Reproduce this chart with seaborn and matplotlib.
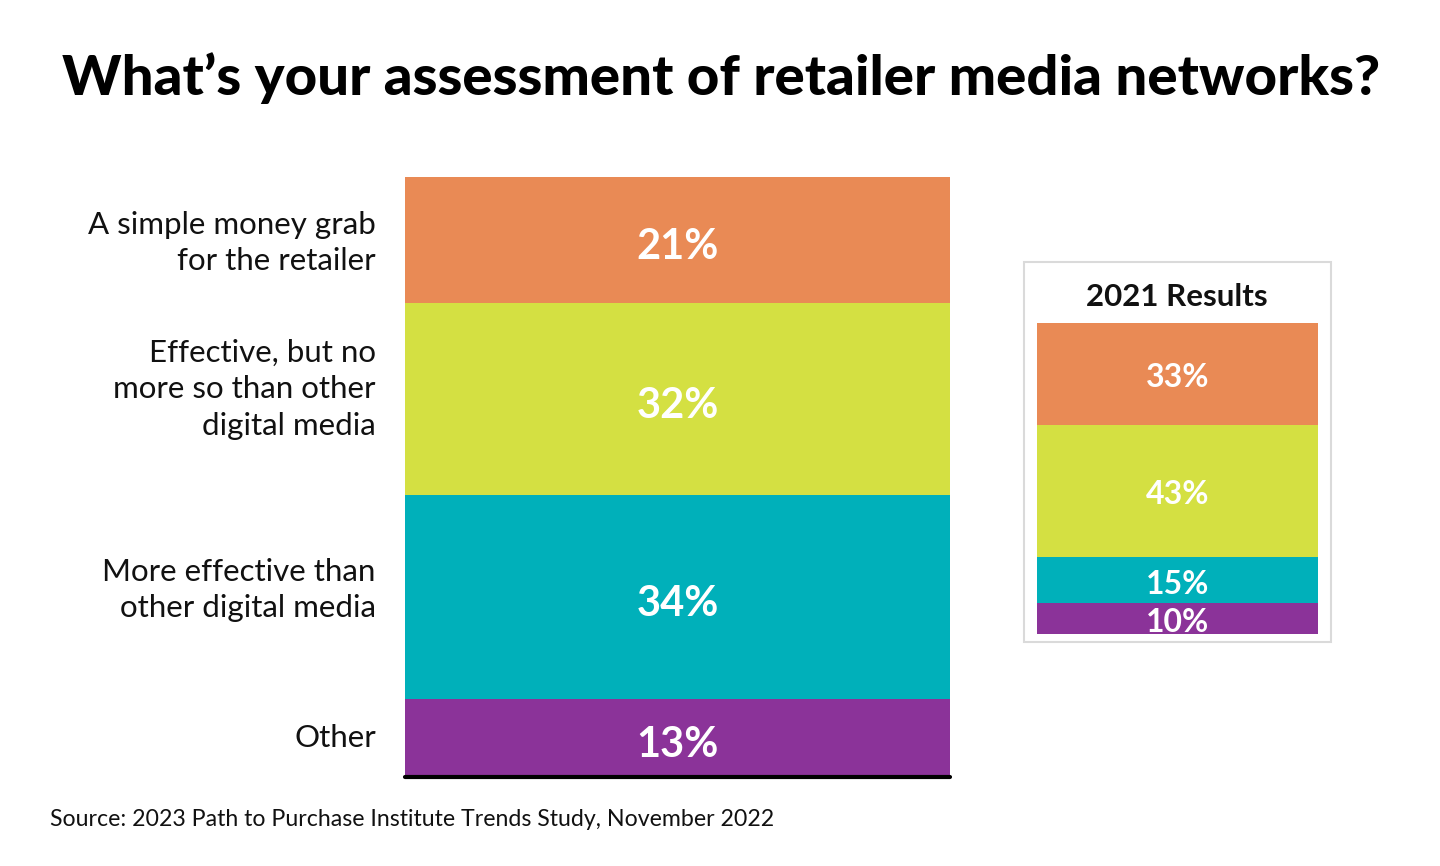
import numpy as np
import matplotlib
matplotlib.use("Agg")
import matplotlib.pyplot as plt
import seaborn as sns
from matplotlib.patches import Rectangle

# Data (top segment first)
categories = [
    "A simple money grab\nfor the retailer",
    "Effective, but no\nmore so than other\ndigital media",
    "More effective than\nother digital media",
    "Other",
]
values_2023 = [21, 32, 34, 13]
values_2021 = [33, 43, 15, 10]
colors = ["#E98A55", "#D4E042", "#00B0BA", "#8B3399"]

title = "What\u2019s your assessment of retailer media networks?"
legend_title = "2021 Results"
source = "Source: 2023 Path to Purchase Institute Trends Study, November 2022"

sns.set_theme(style="white")
plt.rcParams["font.family"] = ["Lato", "DejaVu Sans"]

fig = plt.figure(figsize=(14.4, 8.66), dpi=100)
W, H = 1440, 866


def px_axes(x0, y0, x1, y1):
    return fig.add_axes([x0 / W, 1 - y1 / H, (x1 - x0) / W, (y1 - y0) / H])


def stacked_bar(ax, vals, label_size, drop):
    # cumulative heights measured from the bottom; draw tallest first
    cum = np.cumsum(vals[::-1])[::-1]
    for c, col in zip(cum, colors):
        sns.barplot(x=["bar"], y=[c], color=col, width=1, saturation=1,
                    linewidth=0, ax=ax)
    ax.set_xlim(-0.5, 0.5)
    ax.set_ylim(0, cum[0])
    for c, v in zip(cum, vals):
        ax.annotate(f"{v}%", (0, c - v / 2), xytext=(0, -drop),
                    textcoords="offset points", ha="center", va="center",
                    color="white", fontsize=label_size, fontweight="bold")
    ax.axis("off")
    return cum


# main bar
ax = px_axes(405, 177, 950, 777)
cum = stacked_bar(ax, values_2023, 30, 5)
ax.axhline(0, color="black", lw=3, clip_on=False)
nudges = [-2, 7, 5, 0]  # points upward, to match the original label placement
for c, v, lab, nd in zip(cum, values_2023, categories, nudges):
    ax.annotate(lab, (-0.5, c - v / 2), xytext=(-21, nd),
                textcoords="offset points", ha="right", va="center",
                fontsize=22.5, color="#111111", linespacing=1.36)

# 2021 inset
fig.patches.append(Rectangle((1024 / W, 1 - 642 / H), 307 / W, 380 / H,
                             transform=fig.transFigure, fill=False,
                             edgecolor="#DADADA", lw=1.5))
ax2 = px_axes(1037, 323, 1318, 634)
stacked_bar(ax2, values_2021, 23, 3)
fig.text(1177 / W, 1 - 297 / H, legend_title, ha="center", va="center",
         fontsize=22.5, fontweight="bold", color="#111111")

fig.text(62 / W, 1 - 78 / H, title, ha="left", va="center",
         fontsize=40.6, fontweight="black", color="black")
fig.text(50 / W, 1 - 820 / H, source, ha="left", va="center",
         fontsize=16.7, color="#111111")

fig.savefig("out.png", dpi=100, facecolor="white")
